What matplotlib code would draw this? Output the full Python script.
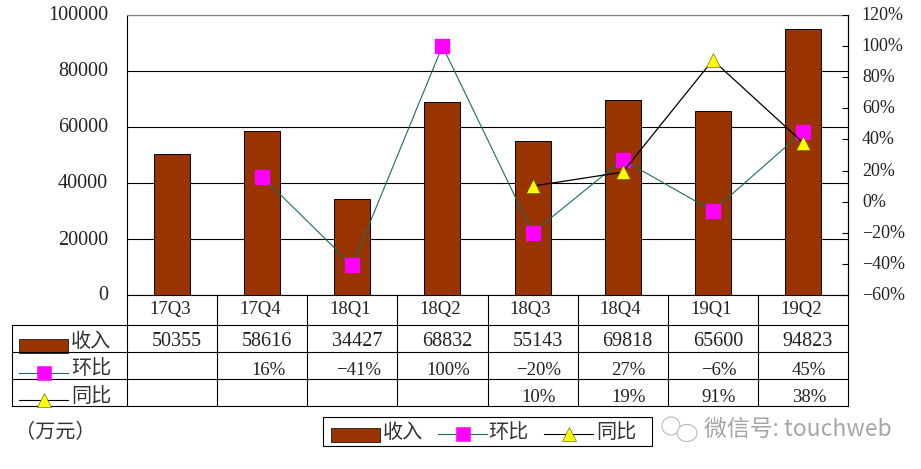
#!/usr/bin/env python3
# -*- coding: utf-8 -*-
import matplotlib
matplotlib.use("Agg")
import matplotlib.pyplot as plt
from matplotlib.patches import Rectangle, Ellipse
from matplotlib.lines import Line2D
from matplotlib.transforms import ScaledTranslation

quarters = ["17Q3", "17Q4", "18Q1", "18Q2", "18Q3", "18Q4", "19Q1", "19Q2"]
revenue = [50355, 58616, 34427, 68832, 55143, 69818, 65600, 94823]
qoq = [None, 16, -41, 100, -20, 27, -6, 45]
yoy = [None, None, None, None, 10, 19, 91, 38]

BAR = "#993300"
PINK = "#ff00ff"
YELLOW = "#ffff00"
TEAL = "#1c6b6b"
TEXT = "#222222"
SERIF = ["Liberation Serif", "DejaVu Serif"]
CJK = ["Noto Sans CJK SC", "DejaVu Sans"]
LW = 0.8

W, H = 921, 469
L, R, T, B = 127, 848, 15, 295   # plot box in pixels
row_y = [295, 325, 352, 379, 406]


def fx(px):
    return px / W


def fy(py):
    return 1 - py / H


def pct(v):
    return f"\u2212{-v}%" if v < 0 else f"{v}%"


fig = plt.figure(figsize=(W / 100, H / 100), dpi=100)
ax = fig.add_axes([fx(L), fy(B), (R - L) / W, (B - T) / H])
ax.set_zorder(1)
ax2 = ax.twinx()
ax2.set_zorder(2)
ax2.patch.set_visible(False)

xs = list(range(len(quarters)))
ax.bar(xs, revenue, width=0.4, color=BAR, edgecolor="black", linewidth=0.7, zorder=3)
ax.set_xlim(-0.5, len(quarters) - 0.5)
ax.set_ylim(0, 100000)
ax.set_yticks(range(0, 100001, 20000))
ax.yaxis.grid(True, color="black", linewidth=LW, zorder=0)
ax.set_axisbelow(True)
ax.set_xticks([])
ax.tick_params(axis="y", length=0, pad=13.7, labelsize=14.5, labelcolor=TEXT)
for s in ax.spines.values():
    s.set_linewidth(LW)
ax.spines["top"].set_color("#808080")

qx = [x for x, v in zip(xs, qoq) if v is not None]
qy = [v for v in qoq if v is not None]
yx = [x for x, v in zip(xs, yoy) if v is not None]
yy = [v for v in yoy if v is not None]
ax2.plot(qx, qy, color=TEAL, linewidth=0.8, marker="s", markersize=10,
         markerfacecolor=PINK, markeredgecolor=PINK, zorder=4)
ax2.plot(yx, yy, color="black", linewidth=0.9, marker="^", markersize=10,
         markerfacecolor=YELLOW, markeredgecolor="#555500", markeredgewidth=0.4, zorder=5)
ax2.set_ylim(-60, 120)
ax2.set_yticks(range(-60, 121, 20))
ax2.set_yticklabels([pct(v) for v in range(-60, 121, 20)])
ax2.tick_params(axis="y", direction="in", length=4.3, width=LW, pad=10, labelsize=13, labelcolor=TEXT)
ax2.set_xticks([])
for s in ax2.spines.values():
    s.set_visible(False)
ax2.spines["right"].set_visible(True)
ax2.spines["right"].set_linewidth(LW)

# labels sit a little above their gridlines in the original
up = ScaledTranslation(0, 1.5 / 100, fig.dpi_scale_trans)
for t in ax.get_yticklabels() + ax2.get_yticklabels():
    t.set_family(SERIF)
    t.set_transform(t.get_transform() + up)

# data table under the plot
col_w = (R - L) / len(quarters)
for py in row_y[1:]:
    fig.add_artist(Line2D([fx(12), fx(R)], [fy(py), fy(py)], color="black", linewidth=LW))
fig.add_artist(Line2D([fx(12), fx(12)], [fy(row_y[1]), fy(row_y[-1])], color="black", linewidth=LW))
for i in range(len(quarters) + 1):
    px = L + i * col_w
    fig.add_artist(Line2D([fx(px), fx(px)], [fy(B), fy(row_y[-1])], color="black", linewidth=LW))

cell_dx = [-2, 5, 6, 6]
cell_dy = [-0.5, 3.5, 4.5, 4.5]


def cell(i, row, s, size=14.5):
    fig.text(fx(L + (i + 0.5) * col_w + cell_dx[row]),
             fy((row_y[row] + row_y[row + 1]) / 2 + cell_dy[row]), s, ha="center", va="center",
             family=SERIF, fontsize=size, color=TEXT)


for i, q in enumerate(quarters):
    cell(i, 0, q, 13.5)
    cell(i, 1, str(revenue[i]))
    if qoq[i] is not None:
        cell(i, 2, pct(qoq[i]), 13.5)
    if yoy[i] is not None:
        cell(i, 3, pct(yoy[i]), 13.5)


def key_bar(px, py):
    fig.add_artist(Rectangle((fx(px), fy(py + 7)), 49 / W, 14 / H, transform=fig.transFigure,
                             facecolor=BAR, edgecolor="black", linewidth=0.5))


def key_line(px, py, color, marker, ms, mfc, mec):
    fig.add_artist(Line2D([fx(px), fx(px + 49)], [fy(py), fy(py)], color=color, linewidth=0.8))
    fig.add_artist(Line2D([fx(px + 24.5)], [fy(py)], marker=marker, markersize=ms,
                          markerfacecolor=mfc, markeredgecolor=mec, markeredgewidth=0.4))


def label(px, py, s, size=14.5):
    fig.text(fx(px), fy(py), s, family=CJK, fontsize=size, color="#333333", ha="left", va="center")


# row keys
key_bar(19, 346)
label(71, 341, "收入")
key_line(19, 373, TEAL, "s", 10, PINK, PINK)
label(71, 369, "环比")
key_line(19, 400, "black", "^", 10, YELLOW, "#555500")
label(71, 396, "同比")

label(15, 433, "（万元）", 14.5)

# legend box
fig.add_artist(Rectangle((fx(323), fy(446)), (651.5 - 323) / W, (446 - 417) / H,
                         transform=fig.transFigure, facecolor="white",
                         edgecolor="black", linewidth=LW))
key_bar(331, 434.5)
label(383, 432, "收入")
key_line(438, 434, TEAL, "s", 10, PINK, PINK)
label(488, 432, "环比")
key_line(544, 434, "black", "^", 10, YELLOW, "#555500")
label(596, 432, "同比")

# watermark
for ex, ey, ew, eh in [(671, 426, 18, 18), (687, 433, 20, 17)]:
    fig.add_artist(Ellipse((fx(ex), fy(ey)), ew / W, eh / H, transform=fig.transFigure,
                           facecolor="white", edgecolor="#b8b8b8", linewidth=0.8))
fig.text(fx(704), fy(429), "微信号: touchweb", family=CJK,
         fontsize=16.5, color="#a6a6a6", ha="left", va="center")

fig.savefig("out.png", dpi=100)
